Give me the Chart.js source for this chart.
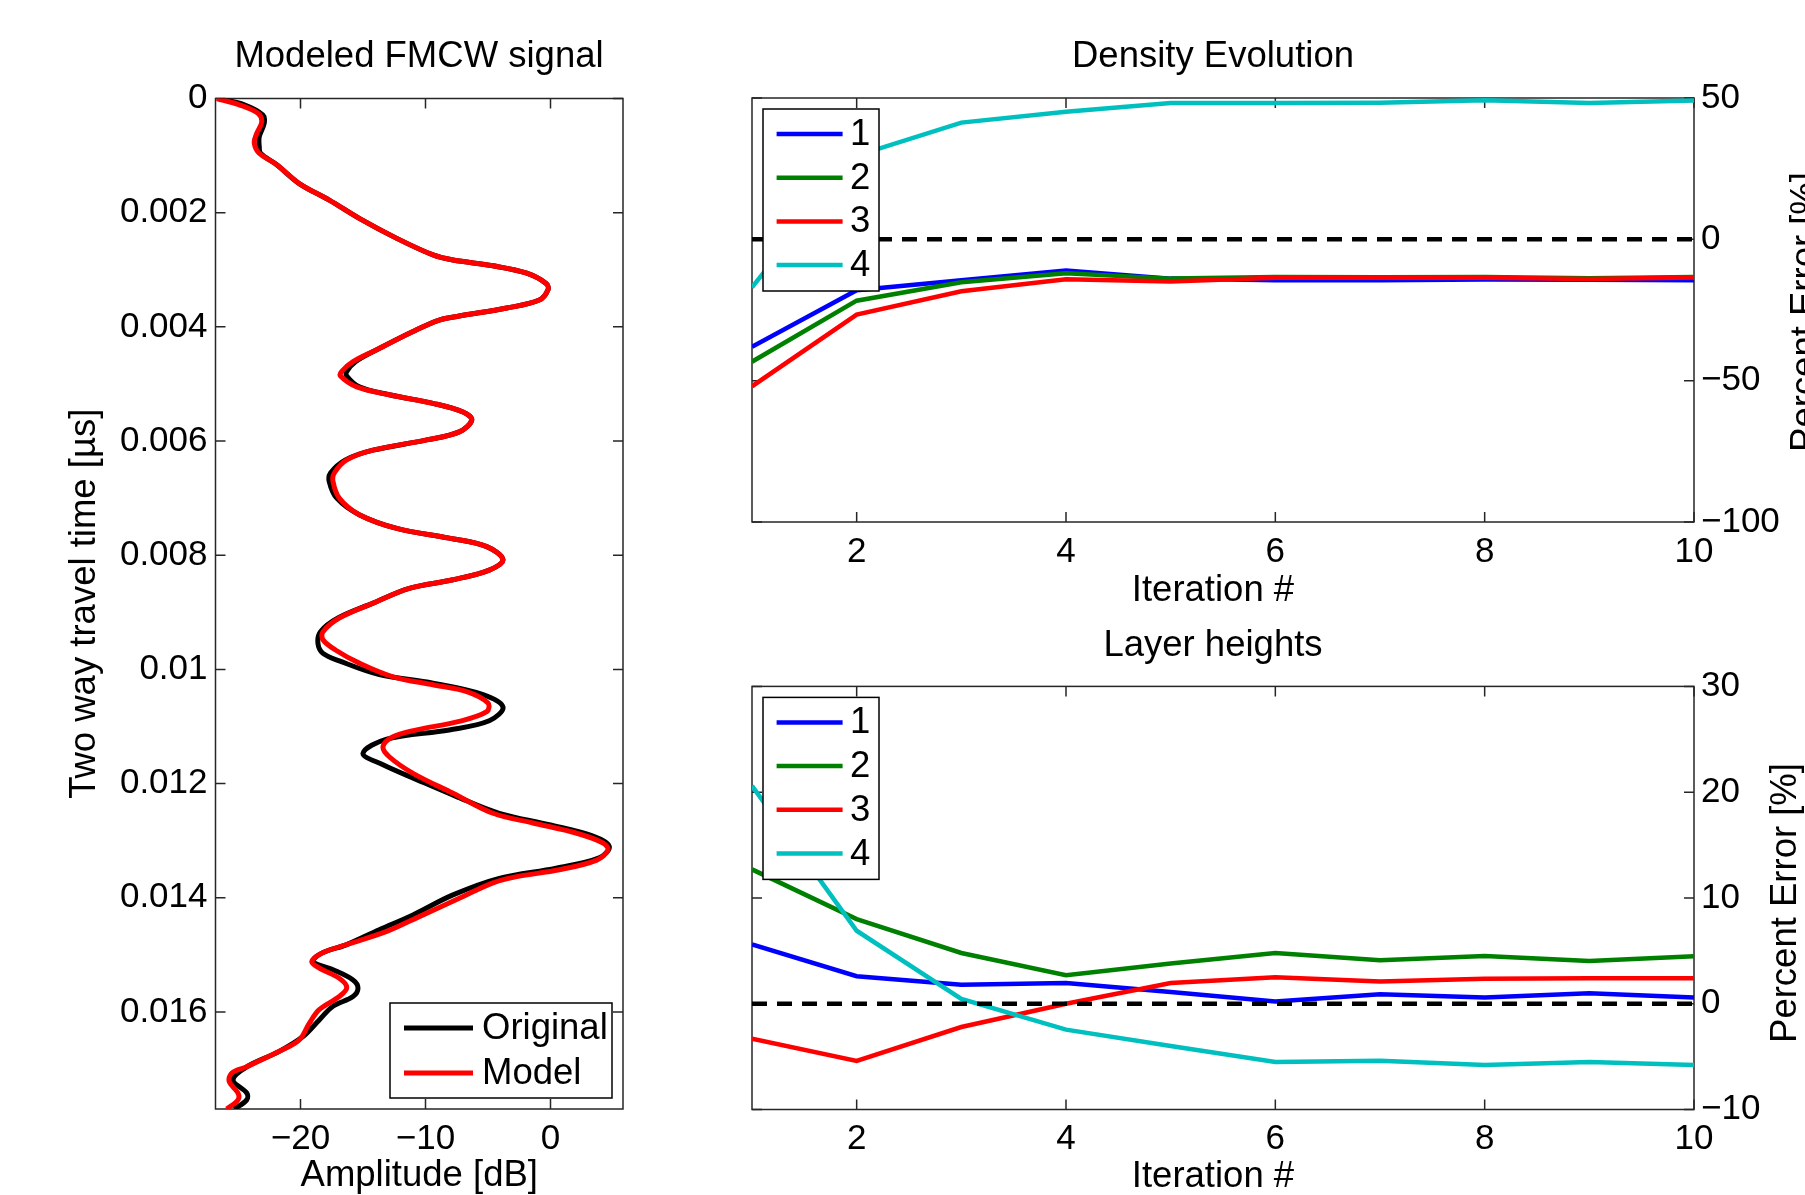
<!DOCTYPE html>
<html lang="en">
<head>
<meta charset="UTF-8">
<title>FMCW inversion</title>
<script src="https://cdn.jsdelivr.net/npm/chart.js@4.4.1/dist/chart.umd.min.js"></script>
<style>
    html, body {
        margin: 0;
        padding: 0;
        width: 1805px;
        height: 1195px;
        overflow: hidden;
        background: #fff;
    }
    .panel { position: absolute; }
    #signalPanel  { left: 0;     top: 0;     width: 660px;  height: 1195px; }
    #densityPanel { left: 660px; top: 0;     width: 1200px; height: 610px; }
    #heightPanel  { left: 660px; top: 610px; width: 1200px; height: 585px; }
</style>
</head>
<body>
<div class="panel" id="signalPanel"><canvas id="signalChart"></canvas></div>
<div class="panel" id="densityPanel"><canvas id="densityChart"></canvas></div>
<div class="panel" id="heightPanel"><canvas id="heightChart"></canvas></div>

<script>
// ---- modeled FMCW signal (amplitude in dB vs two way travel time) ----
const origTime = [0, 0.00011, 0.00029, 0.00043, 0.00067, 0.00084, 0.00096, 0.00116, 0.00149, 0.00178,
    0.0021, 0.00245, 0.00274, 0.00283, 0.00293, 0.00306, 0.00324, 0.00335, 0.00353, 0.00367,
    0.00381, 0.00388, 0.00408, 0.0044, 0.00461, 0.00478, 0.00486, 0.00505, 0.00519, 0.00534,
    0.00549, 0.00563, 0.00584, 0.00598, 0.00616, 0.00633, 0.00656, 0.00671, 0.007, 0.00729,
    0.00753, 0.0077, 0.00785, 0.00808, 0.00826, 0.00843, 0.00858, 0.00884, 0.0091, 0.00934,
    0.00955, 0.00972, 0.00985, 0.01009, 0.01024, 0.01044, 0.01066, 0.0109, 0.01106, 0.01122,
    0.01147, 0.01167, 0.01193, 0.01222, 0.01252, 0.01272, 0.01292, 0.0131, 0.0133, 0.01348,
    0.01366, 0.01395, 0.0143, 0.01456, 0.01482, 0.01497, 0.01512, 0.01526, 0.01544, 0.01558,
    0.01573, 0.0159, 0.01614, 0.01643, 0.01669, 0.01696, 0.01719, 0.01742, 0.01754, 0.0177];
const origAmp = [-26.5, -24.5, -23.0, -22.9, -23.3, -23.3, -23.2, -21.9, -20.1, -17.7,
    -15.3, -12.3, -9.4, -7.8, -4.6, -1.9, -0.35, -0.2, -0.9, -3.5,
    -7.3, -8.9, -11.0, -13.9, -15.6, -16.3, -16.3, -15.3, -12.9, -9.4,
    -7.0, -6.3, -7.3, -9.9, -14.2, -16.4, -17.6, -17.7, -17.1, -15.3,
    -12.3, -8.1, -5.1, -3.8, -4.9, -7.8, -11.3, -14.2, -17.0, -18.4,
    -18.6, -18.2, -16.9, -13.7, -9.4, -5.4, -3.8, -4.9, -8.1, -13.1,
    -15.0, -13.4, -10.7, -7.6, -4.1, -0.1, 3.4, 4.7, 3.9, 0.45,
    -4.1, -7.8, -11.0, -13.7, -16.3, -18.3, -19.0, -17.4, -15.8, -15.4,
    -15.8, -17.4, -18.5, -19.8, -21.7, -24.3, -25.4, -24.3, -24.3, -25.3];

const modelTime = [0, 0.00011, 0.00026, 0.00041, 0.00061, 0.00078, 0.00096, 0.00116, 0.00149, 0.00178,
    0.0021, 0.00245, 0.00274, 0.00283, 0.00293, 0.00306, 0.00324, 0.00335, 0.00353, 0.00367,
    0.00381, 0.00388, 0.00408, 0.0044, 0.00461, 0.00478, 0.00486, 0.00505, 0.00519, 0.00534,
    0.00549, 0.00563, 0.00584, 0.00598, 0.00616, 0.00633, 0.00656, 0.00671, 0.007, 0.00729,
    0.00753, 0.0077, 0.00785, 0.00808, 0.00826, 0.00843, 0.00858, 0.00884, 0.0091, 0.00934,
    0.00948, 0.00966, 0.00989, 0.01013, 0.01027, 0.01039, 0.01059, 0.01074, 0.01091, 0.01106,
    0.01118, 0.01135, 0.01153, 0.01182, 0.01217, 0.01252, 0.01269, 0.01287, 0.01304, 0.01316,
    0.01334, 0.01351, 0.01363, 0.01374, 0.01401, 0.01433, 0.01459, 0.01482, 0.01497, 0.01512,
    0.01523, 0.01541, 0.01557, 0.01573, 0.01596, 0.0162, 0.01649, 0.01669, 0.01696, 0.01707,
    0.01722, 0.01742, 0.01754, 0.0177];
const modelAmp = [-26.7, -24.9, -23.4, -23.1, -23.5, -23.7, -23.3, -21.9, -20.1, -17.7,
    -15.3, -12.3, -9.4, -7.8, -4.6, -1.9, -0.35, -0.2, -0.9, -3.5,
    -7.3, -8.9, -11.0, -13.9, -15.8, -16.7, -16.8, -15.5, -12.9, -9.4,
    -7.0, -6.3, -7.3, -9.9, -14.2, -16.3, -17.3, -17.4, -16.9, -15.3,
    -12.3, -8.1, -5.1, -3.8, -4.9, -7.8, -11.3, -14.2, -16.9, -18.2,
    -18.2, -17.2, -15.3, -12.6, -9.4, -6.7, -5.0, -5.1, -7.3, -10.7,
    -12.6, -13.4, -12.9, -11.0, -7.8, -4.6, -1.4, 2.1, 4.2, 4.6,
    3.7, 0.7, -2.7, -4.6, -7.3, -10.5, -13.1, -16.3, -18.3, -19.1,
    -18.5, -16.9, -16.3, -16.9, -18.5, -19.3, -20.1, -21.7, -24.3, -25.5,
    -25.7, -25.0, -25.0, -25.9];

const ampTicks = [-20, -10, 0];
const timeTicks = [0, 0.002, 0.004, 0.006, 0.008, 0.01, 0.012, 0.014, 0.016];

// ---- inversion: percent error per layer vs iteration ----
const iterations = [1, 2, 3, 4, 5, 6, 7, 8, 9, 10];
const layerNames = ['1', '2', '3', '4'];

const densityErr1 = [-38.0, -18.0, -14.5, -11.0, -13.9, -14.5, -14.5, -14.2, -14.3, -14.5];
const densityErr2 = [-43.3, -21.7, -15.2, -12.0, -13.9, -13.3, -13.4, -13.3, -13.8, -13.3];
const densityErr3 = [-52.0, -26.6, -18.4, -14.1, -14.9, -13.6, -13.6, -13.6, -14.0, -13.5];
const densityErr4 = [-17.0, 29.6, 41.3, 45.1, 48.2, 48.2, 48.3, 49.2, 48.2, 49.1];

const heightErr1 = [5.6, 2.6, 1.8, 1.95, 1.1, 0.2, 0.9, 0.6, 1.0, 0.6];
const heightErr2 = [12.7, 8.0, 4.8, 2.7, 3.8, 4.8, 4.1, 4.5, 4.05, 4.5];
const heightErr3 = [-3.3, -5.4, -2.2, 0.0, 1.95, 2.5, 2.1, 2.35, 2.4, 2.4];
const heightErr4 = [20.6, 6.9, 0.45, -2.45, -4.0, -5.5, -5.4, -5.8, -5.5, -5.8];

const zeroError = 0;
const iterTicks = [2, 4, 6, 8, 10];
const densityTicks = [-100, -50, 0, 50];
const heightTicks = [-10, 0, 10, 20, 30];

// ---- styling ----
const FONT_FAMILY = '"Liberation Sans", Arial, Helvetica, sans-serif';
const TICK_FONT = 35;
const LABEL_FONT = 36.5;
const TICK_LEN = 10;
const layerColors = ['#0000ff', '#008000', '#ff0000', '#00bfbf'];

Chart.defaults.font.family = FONT_FAMILY;
Chart.defaults.font.size = TICK_FONT;
Chart.defaults.color = '#000';

const minus = v => String(v).replace('-', '\u2212');

// box around the plot area with matlab style inward ticks on all four sides
const boxTicks = {
    id: 'boxTicks',
    beforeDatasetsDraw(chart) {
        const { ctx, chartArea: a, scales: { x, y } } = chart;
        ctx.save();
        ctx.strokeStyle = '#262626';
        ctx.lineWidth = 1.5;
        ctx.beginPath();
        x.ticks.forEach(t => {
            const p = x.getPixelForValue(t.value);
            ctx.moveTo(p, a.bottom); ctx.lineTo(p, a.bottom - TICK_LEN);
            ctx.moveTo(p, a.top); ctx.lineTo(p, a.top + TICK_LEN);
        });
        y.ticks.forEach(t => {
            const p = y.getPixelForValue(t.value);
            ctx.moveTo(a.left, p); ctx.lineTo(a.left + TICK_LEN, p);
            ctx.moveTo(a.right, p); ctx.lineTo(a.right - TICK_LEN, p);
        });
        ctx.stroke();
        ctx.strokeRect(a.left, a.top, a.right - a.left, a.bottom - a.top);
        ctx.restore();
    }
};

// free text: titles, axis labels
function textItems(items) {
    return {
        id: 'textItems',
        afterDraw(chart) {
            const ctx = chart.ctx;
            ctx.save();
            ctx.fillStyle = '#000';
            ctx.font = LABEL_FONT + 'px ' + FONT_FAMILY;
            ctx.textAlign = 'center';
            ctx.textBaseline = 'middle';
            items.forEach(it => {
                ctx.save();
                ctx.translate(it.x, it.y);
                if (it.rotate) ctx.rotate(it.rotate);
                ctx.fillText(it.text, 0, 0);
                ctx.restore();
            });
            ctx.restore();
        }
    };
}

// legend box drawn inside the plot area
function insetLegend(box) {
    return {
        id: 'insetLegend',
        afterDatasetsDraw(chart) {
            const { ctx, chartArea: a } = chart;
            const left = box.corner === 'br' ? a.right - box.margin - box.width : a.left + box.margin;
            const top = box.corner === 'br' ? a.bottom - box.margin - box.height : a.top + box.margin;
            ctx.save();
            ctx.fillStyle = '#fff';
            ctx.fillRect(left, top, box.width, box.height);
            ctx.strokeStyle = '#000';
            ctx.lineWidth = 1.5;
            ctx.strokeRect(left, top, box.width, box.height);
            ctx.font = LABEL_FONT + 'px ' + FONT_FAMILY;
            ctx.textBaseline = 'middle';
            ctx.textAlign = 'left';
            chart.data.datasets.filter(d => d.label).forEach((d, i) => {
                const yy = top + box.firstRow + i * box.rowGap;
                ctx.strokeStyle = d.borderColor;
                ctx.lineWidth = d.borderWidth;
                ctx.beginPath();
                ctx.moveTo(left + box.lineStart, yy);
                ctx.lineTo(left + box.lineStart + box.lineLen, yy);
                ctx.stroke();
                ctx.fillStyle = '#000';
                ctx.fillText(d.label, left + box.textX, yy + 1);
            });
            ctx.restore();
        }
    };
}

function fixedTicks(values) {
    return s => { s.ticks = values.map(v => ({ value: v })); };
}

// ---------- left: modeled FMCW signal ----------
new Chart(document.getElementById('signalChart'), {
    type: 'scatter',
    data: {
        datasets: [
            {
                label: 'Original',
                data: origTime.map((t, i) => ({ x: origAmp[i], y: t })),
                showLine: true, borderColor: '#000', borderWidth: 5,
                pointRadius: 0, tension: 0.35, order: 2
            },
            {
                label: 'Model',
                data: modelTime.map((t, i) => ({ x: modelAmp[i], y: t })),
                showLine: true, borderColor: '#ff0000', borderWidth: 5,
                pointRadius: 0, tension: 0.35, order: 1
            }
        ]
    },
    options: {
        responsive: true,
        maintainAspectRatio: false,
        animation: false,
        layout: { padding: { top: 98.5, right: 37, bottom: 0, left: 0 } },
        plugins: { legend: { display: false }, tooltip: { enabled: false } },
        scales: {
            x: {
                type: 'linear', min: -26.8, max: 5.8,
                afterBuildTicks: fixedTicks(ampTicks),
                afterFit: s => { s.height = 86; },
                grid: { display: false, drawTicks: false },
                border: { display: false },
                ticks: { padding: 9, autoSkip: false, maxRotation: 0, callback: v => minus(v) },
                title: { display: true, text: 'Amplitude [dB]', padding: { top: 0, bottom: -3 },
                         font: { size: LABEL_FONT } }
            },
            y: {
                type: 'linear', min: 0, max: 0.0177, reverse: true,
                afterBuildTicks: fixedTicks(timeTicks),
                afterFit: s => { s.width = 215.5; },
                grid: { display: false, drawTicks: false },
                border: { display: false },
                ticks: { padding: 8, autoSkip: false, callback: v => String(+v.toFixed(3)) },
                title: { display: true, text: 'Two way travel time [\u00b5s]', padding: { top: 63, bottom: 0 },
                         font: { size: LABEL_FONT } }
            }
        }
    },
    plugins: [
        boxTicks,
        insetLegend({ corner: 'br', margin: 11, width: 222, height: 95, firstRow: 25, rowGap: 45,
                      lineStart: 14, lineLen: 69, textX: 92 }),
        textItems([{ text: 'Modeled FMCW signal', x: 419, y: 57 }])
    ]
});

// ---------- right: percent error panels ----------
function errorChart(canvasId, series, range, yTicks, cfg) {
    const drawOrder = [4, 3, 2, 1];
    const datasets = series.map((vals, i) => ({
        label: layerNames[i],
        data: iterations.map((it, k) => ({ x: it, y: vals[k] })),
        showLine: true, borderColor: layerColors[i], borderWidth: 4.5,
        pointRadius: 0, tension: 0, order: drawOrder[i]
    }));
    datasets.push({
        data: iterations.map(it => ({ x: it, y: zeroError })),
        showLine: true, borderColor: '#000', borderWidth: 4.5, borderDash: [15, 10],
        pointRadius: 0, order: 0
    });
    return new Chart(document.getElementById(canvasId), {
        type: 'scatter',
        data: { datasets },
        options: {
            responsive: true,
            maintainAspectRatio: false,
            animation: false,
            layout: { padding: { top: cfg.top, right: 0, bottom: 0, left: 92 } },
            plugins: { legend: { display: false }, tooltip: { enabled: false } },
            scales: {
                x: {
                    type: 'linear', min: 1, max: 10,
                    afterBuildTicks: fixedTicks(iterTicks),
                    afterFit: s => { s.height = cfg.xHeight; },
                    grid: { display: false, drawTicks: false },
                    border: { display: false },
                    ticks: { padding: 9, autoSkip: false, maxRotation: 0 }
                },
                y: {
                    type: 'linear', position: 'right', min: range[0], max: range[1],
                    afterBuildTicks: fixedTicks(yTicks),
                    afterFit: s => { s.width = 166; },
                    grid: { display: false, drawTicks: false },
                    border: { display: false },
                    ticks: { padding: 7, autoSkip: false, callback: v => minus(v) }
                }
            }
        },
        plugins: [
            boxTicks,
            insetLegend({ corner: 'tl', margin: 11, width: 116, height: 182, firstRow: 25, rowGap: 43.7,
                          lineStart: 13.6, lineLen: 66, textX: 87 }),
            textItems(cfg.texts)
        ]
    });
}

errorChart('densityChart',
    [densityErr1, densityErr2, densityErr3, densityErr4], [-100, 50], densityTicks,
    {
        top: 98, xHeight: 88,
        texts: [
            { text: 'Density Evolution', x: 553, y: 57 },
            { text: 'Iteration #', x: 553, y: 591 },
            { text: 'Percent Error [%]', x: 1146, y: 312, rotate: -Math.PI / 2 }
        ]
    });

errorChart('heightChart',
    [heightErr1, heightErr2, heightErr3, heightErr4], [-10, 30], heightTicks,
    {
        top: 76.4, xHeight: 85.5,
        texts: [
            { text: 'Layer heights', x: 553, y: 36 },
            { text: 'Iteration #', x: 553, y: 567 },
            { text: 'Percent Error [%]', x: 1126, y: 293, rotate: -Math.PI / 2 }
        ]
    });
</script>
</body>
</html>
